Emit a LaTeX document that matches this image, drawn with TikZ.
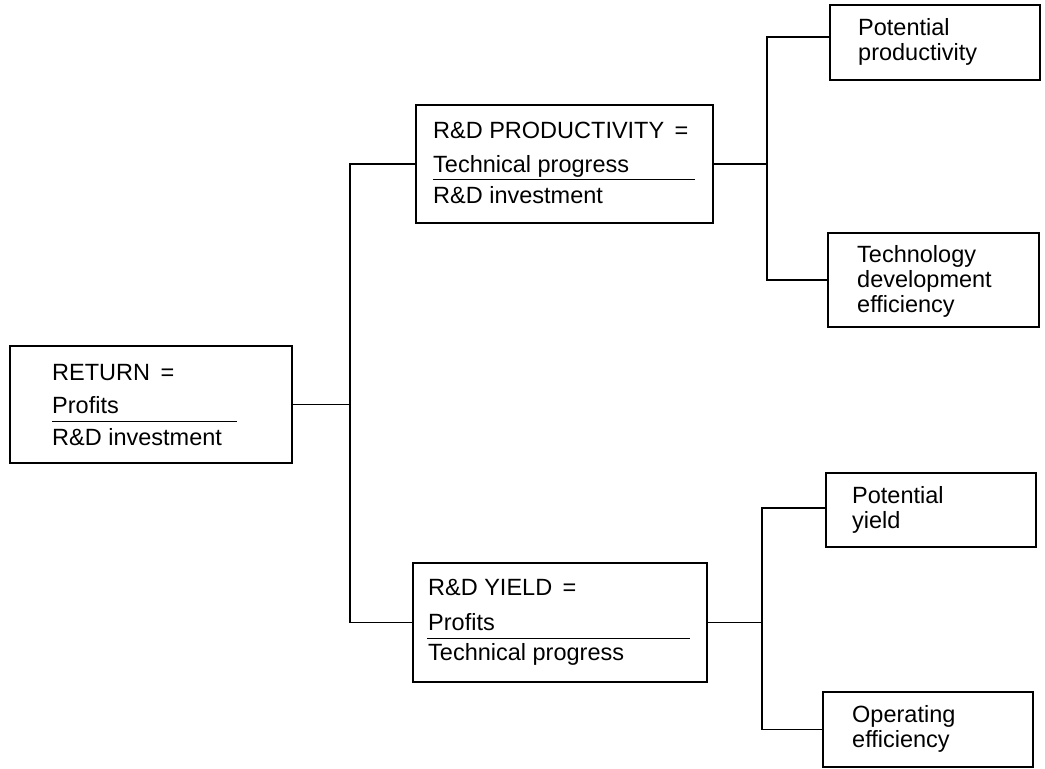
\documentclass[tikz,border=0pt]{standalone}
\usepackage{fontspec}
\setmainfont{Liberation Sans}
\begin{document}
\begin{tikzpicture}[x=1pt,y=-1pt,
  box/.style={draw,line width=1.3pt,inner sep=0pt,minimum width=#1},
  txt/.style={anchor=base west,inner sep=0pt,font=\fontsize{23.5}{26}\selectfont},
  conn/.style={line width=1.3pt},
  frac/.style={line width=1pt}]
\useasboundingbox (0,0) rectangle (1045,769);
% boxes
\node[box=282pt,minimum height=117pt] (ret) at (151,404.5) {};
\node[box=297pt,minimum height=118pt] (prod) at (564.5,164) {};
\node[box=294pt,minimum height=119pt] (yld) at (560,622.5) {};
\node[box=210pt,minimum height=75pt] (pp) at (935,42.5) {};
\node[box=211pt,minimum height=94pt] (tde) at (933.5,280) {};
\node[box=210pt,minimum height=74pt] (py) at (931,510) {};
\node[box=210pt,minimum height=75pt] (oe) at (928,729.5) {};
% texts
\node[txt] (ret1) at (52,380) {RETURN\, =};
\node[txt] (ret2) at (52,413) {Profits};
\node[txt] (ret3) at (52,445) {R\&D investment};
\draw[frac] (52,421) -- (237,421);
\node[txt] (prod1) at (433,138) {R\&D PRODUCTIVITY\, =};
\node[txt] (prod2) at (433,172) {Technical progress};
\node[txt] (prod3) at (433,203) {R\&D investment};
\draw[frac] (433,179) -- (695,179);
\node[txt] (yld1) at (428,595) {R\&D YIELD\, =};
\node[txt] (yld2) at (428,630) {Profits};
\node[txt] (yld3) at (428,660) {Technical progress};
\draw[frac] (427,638) -- (690,638);
\node[txt] (pp1) at (858,35) {Potential};
\node[txt] (pp2) at (858,60) {productivity};
\node[txt] (tde1) at (857,262) {Technology};
\node[txt] (tde2) at (857,287) {development};
\node[txt] (tde3) at (857,312) {efficiency};
\node[txt] (py1) at (852,503) {Potential};
\node[txt] (py2) at (852,528) {yield};
\node[txt] (oe1) at (852,722) {Operating};
\node[txt] (oe2) at (852,747) {efficiency};
% connectors
\coordinate (j1) at (350,0);
\coordinate (j2) at (767,0);
\coordinate (j3) at (762,0);
\draw[conn] (ret.east) -- (ret.east -| j1);
\draw[conn] (prod.west) -| (j1 |- yld.west) -- (yld.west);
\draw[conn] (prod.east) -- (prod.east -| j2);
\draw[conn] ([yshift=5.5pt]pp.west) -| (j2 |- tde.west) -- (tde.west);
\draw[conn] (yld.east) -- (yld.east -| j3);
\draw[conn] ([yshift=2pt]py.west) -| (j3 |- oe.west) -- (oe.west);
\end{tikzpicture}
\end{document}
